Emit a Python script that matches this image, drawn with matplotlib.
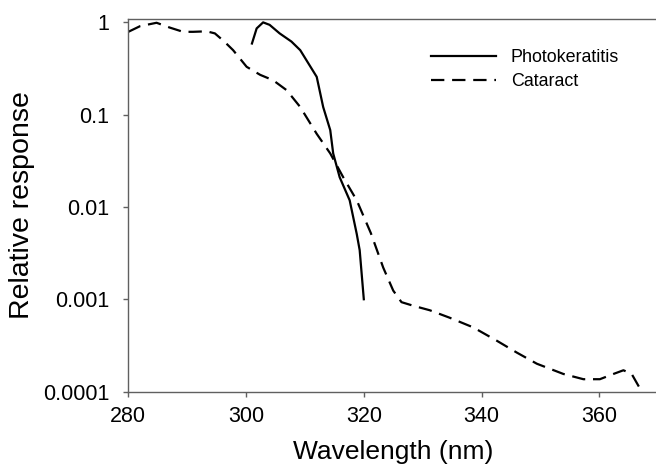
import matplotlib
matplotlib.use("Agg")
import matplotlib.pyplot as plt

plt.rcParams['font.family'] = ['Liberation Sans', 'DejaVu Sans']

# photokeratitis action spectrum (solid)
pk_x = [301.0, 301.8, 302.9, 304.0, 305.7, 307.7, 309.2, 312.0, 313.1, 314.3,
        314.8, 315.9, 317.6, 318.8, 319.3, 320.0]
pk_y = [0.59, 0.86, 1.0, 0.94, 0.76, 0.62, 0.50, 0.257, 0.121, 0.068,
        0.038, 0.021, 0.0118, 0.0051, 0.0034, 0.001]

# cataract action spectrum (dashed)
cat_x = [280, 282, 284.8, 287, 289.3, 291, 293.3, 294.7, 296.3, 297.8,
         300.1, 302.4, 304.6, 306.9, 309.2, 312.0, 314.3, 316.5, 318.8, 321.2,
         323.3, 325.0, 326.4, 328.4, 331.2, 334.6, 338.6, 342.6, 346.0, 349.4,
         353.9, 357.3, 360.1, 362.4, 364.1, 365.5, 367.2]
cat_y = [0.79, 0.91, 0.99, 0.88, 0.79, 0.79, 0.80, 0.76, 0.62, 0.50,
         0.33, 0.27, 0.236, 0.184, 0.121, 0.062, 0.038, 0.021, 0.0118, 0.0052,
         0.0022, 0.00124, 0.00093, 0.00085, 0.00076, 0.00063, 0.000495, 0.000355, 0.000264, 0.0002,
         0.000155, 0.000136, 0.000136, 0.000155, 0.00017, 0.000155, 0.0001]

x_ticks = [280, 300, 320, 340, 360]
y_ticks = [1, 0.1, 0.01, 0.001, 0.0001]
y_labels = ['1', '0.1', '0.01', '0.001', '0.0001']

fig = plt.figure(figsize=(6.56, 4.65), dpi=100)
ax = fig.add_axes([0.1956, 0.158, 0.8077, 0.801])

ax.plot(pk_x, pk_y, color='black', lw=1.6, label='Photokeratitis')
ax.plot(cat_x, cat_y, color='black', lw=1.6, linestyle=(0, (6, 3.5)), label='Cataract')

ax.set_yscale('log')
ax.set_xlim(280, 370)
ax.set_ylim(0.0001, 1.086)
ax.set_xticks(x_ticks)
ax.set_xticklabels([str(v) for v in x_ticks])
ax.set_yticks(y_ticks)
ax.set_yticklabels(y_labels)
ax.minorticks_off()

for s in ['top', 'left', 'bottom']:
    ax.spines[s].set_color('#606060')
    ax.spines[s].set_linewidth(1.0)
ax.spines['right'].set_visible(False)

ax.tick_params(axis='both', direction='out', length=3.5, width=1, color='#606060', labelsize=15.5)
ax.tick_params(axis='x', pad=7)
ax.tick_params(axis='y', pad=10)

# keep the x label fully inside the canvas
ax.set_xlabel('Wavelength (nm)', fontsize=19, labelpad=9)
ax.set_ylabel('Relative response', fontsize=20.5, labelpad=6)

ax.legend(loc='upper left', bbox_to_anchor=(431 / 656, 1 - 49 / 465), bbox_transform=fig.transFigure,
          frameon=False, fontsize=12.9, handlelength=3.6, handletextpad=0.85,
          borderpad=0, borderaxespad=0, labelspacing=0.4)

fig.savefig('out.png', dpi=100)
